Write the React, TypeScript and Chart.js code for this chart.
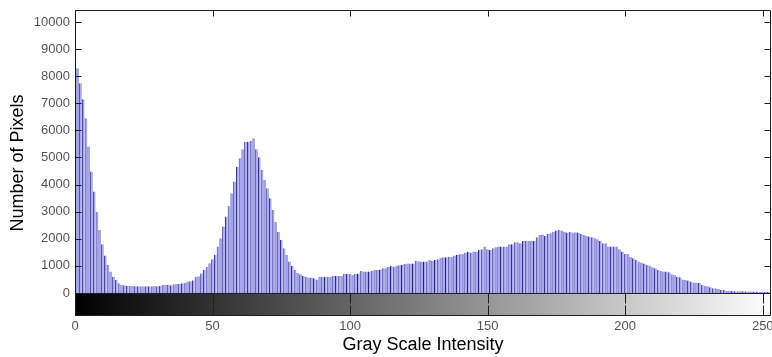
import React, { useEffect, useRef } from "react";
import { Chart, registerables } from "chart.js";

Chart.register(...registerables);

// Pixel counts per gray level
const counts0to63 = [
  8600, 8290, 7740, 7150, 6450, 5400, 4480, 3740, 3000, 2320, 1800, 1380, 1030, 790, 600, 480,
  360, 300, 280, 270, 260, 260, 250, 250, 250, 250, 250, 250, 250, 260, 250, 260,
  300, 300, 300, 280, 320, 330, 340, 360, 370, 420, 430, 470, 600, 620, 720, 850,
  970, 1100, 1240, 1400, 1710, 2020, 2450, 2820, 3210, 3680, 4110, 4660, 4970, 5300, 5580, 5580,
];
const counts64to127 = [
  5620, 5710, 5300, 5010, 4540, 4170, 3860, 3490, 3060, 2630, 2260, 1960, 1650, 1400, 1160, 1000,
  850, 750, 690, 630, 600, 570, 570, 540, 500, 600, 600, 600, 600, 590, 630, 630,
  630, 630, 700, 700, 700, 660, 700, 720, 810, 790, 790, 790, 820, 850, 850, 870,
  910, 910, 970, 1000, 970, 1000, 1020, 1030, 1070, 1090, 1090, 1090, 1190, 1170, 1160, 1160,
];
const counts128to191 = [
  1160, 1220, 1190, 1220, 1240, 1300, 1320, 1320, 1340, 1340, 1380, 1400, 1430, 1440, 1490, 1530,
  1490, 1530, 1530, 1590, 1610, 1710, 1610, 1590, 1650, 1690, 1710, 1710, 1710, 1710, 1800, 1800,
  1870, 1870, 1830, 1920, 1930, 1930, 1930, 1920, 2060, 2140, 2160, 2100, 2180, 2200, 2260, 2300,
  2320, 2300, 2260, 2230, 2260, 2230, 2240, 2230, 2180, 2140, 2100, 2080, 2060, 2020, 1980, 1930,
];
const counts192to255 = [
  1830, 1830, 1710, 1710, 1710, 1710, 1610, 1530, 1440, 1440, 1340, 1280, 1220, 1160, 1120, 1090,
  1030, 1000, 950, 910, 850, 810, 790, 790, 760, 690, 660, 600, 580, 500, 480, 460,
  420, 390, 370, 370, 300, 270, 250, 210, 170, 170, 150, 120, 110, 85, 85, 70,
  60, 60, 60, 60, 50, 50, 50, 50, 50, 40, 40, 40, 40, 40, 30, 30,
];

const pixelCounts = [...counts0to63, ...counts64to127, ...counts128to191, ...counts192to255];
const intensityLevels = pixelCounts.map((_, i) => i);
const xTickValues = [0, 50, 100, 150, 200, 250];
const yTickValues = [0, 1000, 2000, 3000, 4000, 5000, 6000, 7000, 8000, 9000, 10000];

const FONT = 'Arial, "Liberation Sans", sans-serif';

const framePlugin = {
  id: "frameAndBand",
  beforeDatasetsDraw(chart: any) {
    const { ctx, chartArea, scales } = chart;
    const xs = scales.x;
    const ys = scales.y;
    const x0 = xs.getPixelForValue(0);
    const x1 = xs.getPixelForValue(255);
    const yTop = ys.getPixelForValue(0);
    const g = ctx.createLinearGradient(x0, 0, x1, 0);
    g.addColorStop(0, "#000000");
    g.addColorStop(1, "#ffffff");
    ctx.save();
    ctx.beginPath();
    ctx.rect(chartArea.left, chartArea.top, chartArea.right - chartArea.left, chartArea.bottom - chartArea.top);
    ctx.clip();
    ctx.fillStyle = g;
    ctx.fillRect(x0, yTop, x1 - x0, chartArea.bottom - yTop);
    ctx.restore();
  },
  afterDraw(chart: any) {
    const { ctx, chartArea, scales } = chart;
    const xs = scales.x;
    const ys = scales.y;
    const L = Math.round(chartArea.left) + 0.5;
    const R = Math.round(chartArea.right) - 0.5;
    const T = Math.round(chartArea.top) + 0.5;
    const B = Math.round(chartArea.bottom) - 0.5;
    const y0 = Math.round(ys.getPixelForValue(0)) + 0.5;
    ctx.save();
    ctx.strokeStyle = "#1e1e1e";
    ctx.lineWidth = 1;
    ctx.beginPath();
    ctx.moveTo(L, y0);
    ctx.lineTo(R, y0);
    ctx.stroke();
    ctx.beginPath();
    ctx.rect(L, T, R - L, B - T);
    ctx.stroke();
    xTickValues.forEach((v) => {
      const px = Math.round(xs.getPixelForValue(v)) + 0.5;
      ctx.beginPath();
      ctx.moveTo(px, T);
      ctx.lineTo(px, T + 6);
      ctx.moveTo(px, y0);
      ctx.lineTo(px, y0 + 10);
      ctx.moveTo(px, B);
      ctx.lineTo(px, B - 10);
      ctx.stroke();
    });
    yTickValues.forEach((v) => {
      const py = Math.round(ys.getPixelForValue(v)) + 0.5;
      ctx.beginPath();
      ctx.moveTo(L, py);
      ctx.lineTo(L + 6, py);
      ctx.moveTo(R, py);
      ctx.lineTo(R - 6, py);
      ctx.stroke();
    });
    ctx.restore();
  },
};

export default function App() {
  const canvasRef = useRef<HTMLCanvasElement | null>(null);

  useEffect(() => {
    if (!canvasRef.current) return;
    const chart = new Chart(canvasRef.current, {
      type: "bar",
      data: {
        datasets: [
          {
            label: "Number of Pixels",
            data: pixelCounts.map((v, i) => ({ x: intensityLevels[i], y: v })),
            backgroundColor: "#a4a4fa",
            borderColor: "#25257a",
            borderWidth: { left: 1, right: 0, top: 0, bottom: 0 },
            borderSkipped: false,
            barPercentage: 1,
            categoryPercentage: 1,
            inflateAmount: 0,
          } as any,
        ],
      },
      options: {
        responsive: true,
        maintainAspectRatio: false,
        animation: false,
        layout: { padding: { top: 10, right: 1, left: 0, bottom: 0 } },
        plugins: {
          legend: { display: false },
          tooltip: { enabled: false },
        },
        scales: {
          x: {
            type: "linear",
            min: 0,
            max: 253,
            offset: false,
            grid: { display: false, drawTicks: false },
            border: { display: false },
            afterBuildTicks: (s: any) => {
              s.ticks = xTickValues.map((v) => ({ value: v }));
            },
            afterFit: (s: any) => {
              s.height = 41;
              s.paddingLeft = 0;
              s.paddingRight = 0;
              s.paddingTop = 0;
              s.paddingBottom = 0;
            },
            ticks: {
              color: "#555555",
              font: { family: FONT, size: 13 },
              padding: 3,
              maxRotation: 0,
              autoSkip: false,
              callback: (v: any) => String(v),
            },
            title: {
              display: true,
              text: "Gray Scale Intensity",
              color: "#000000",
              font: { family: FONT, size: 18 },
              padding: { top: 0, bottom: 1 },
            },
          },
          y: {
            type: "linear",
            min: -850,
            max: 10440,
            grid: { display: false, drawTicks: false },
            border: { display: false },
            afterBuildTicks: (s: any) => {
              s.ticks = yTickValues.map((v) => ({ value: v }));
            },
            afterFit: (s: any) => {
              s.width = 75;
              s.paddingLeft = 0;
              s.paddingRight = 0;
              s.paddingTop = 0;
              s.paddingBottom = 0;
            },
            ticks: {
              color: "#555555",
              font: { family: FONT, size: 13 },
              padding: 5,
              autoSkip: false,
              callback: (v: any) => String(v),
            },
            title: {
              display: true,
              text: "Number of Pixels",
              color: "#000000",
              font: { family: FONT, size: 18 },
              padding: { top: 7, bottom: 0 },
            },
          },
        },
      } as any,
      plugins: [framePlugin],
    });
    return () => chart.destroy();
  }, []);

  return (
    <div style={{ position: "absolute", left: 0, top: 0, width: 772, height: 357, background: "#ffffff" }}>
      <canvas ref={canvasRef} />
    </div>
  );
}
